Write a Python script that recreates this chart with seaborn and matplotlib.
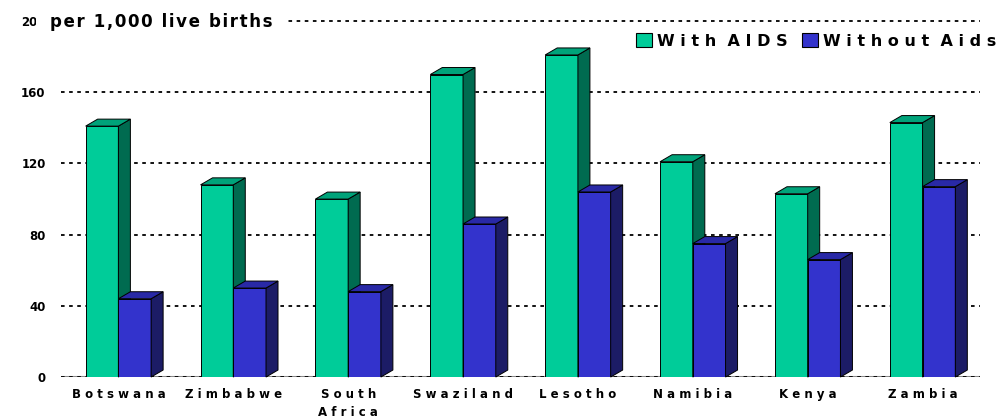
import numpy as np
import pandas as pd
import seaborn as sns
import matplotlib.pyplot as plt
from matplotlib.patches import Polygon, Patch

# data (deaths per 1,000 live births)
countries = ["Botswana", "Zimbabwe", "South\nAfrica", "Swaziland", "Lesotho",
             "Namibia", "Kenya", "Zambia"]
with_aids = [141, 108, 100, 170, 181, 121, 103, 143]
without_aids = [44, 50, 48, 86, 104, 75, 66, 107]
series = ["With AIDS", "Without Aids"]
yticks = [0, 40, 80, 120, 160, 200]

green, blue = "#00CC99", "#3333CC"
green_side, green_top = "#006B50", "#00A37A"
blue_side, blue_top = "#1C1C66", "#2929A6"


def spaced(s):
    # wide letter spacing like the original chart
    return "\n".join("  ".join(" ".join(w) for w in line.split(" "))
                     for line in s.split("\n"))


df = pd.DataFrame({
    "country": countries * 2,
    "series": [series[0]] * len(countries) + [series[1]] * len(countries),
    "value": with_aids + without_aids,
})

sns.set_style("white")
plt.rcParams["font.family"] = ["DejaVu Sans"]
plt.rcParams["text.color"] = "black"

fig = plt.figure(figsize=(9.99, 4.18), dpi=100)
ax = fig.add_axes([0.061, 0.098, 0.92, 0.854])

sns.barplot(data=df, x="country", y="value", hue="series", palette=[green, blue],
            width=0.57, saturation=1, edgecolor="black", linewidth=0.7,
            legend=False, ax=ax)

ax.set_xlim(-0.5, len(countries) - 0.5)
ax.set_ylim(0, 200.6)

# 3D depth: side and top faces
ax_w = 0.92 * 999
ax_h = 0.854 * 418
dx = 12 / ax_w * len(countries)
dy = 7 / ax_h * 200.6
for p in list(ax.patches):
    h = p.get_height()
    if h <= 0:
        continue
    x0, w = p.get_x(), p.get_width()
    is_green = p.get_facecolor()[1] > 0.5
    z = 2 if is_green else 3
    side_c, top_c = (green_side, green_top) if is_green else (blue_side, blue_top)
    p.set_zorder(z)
    side = Polygon([(x0 + w, 0), (x0 + w + dx, dy), (x0 + w + dx, h + dy), (x0 + w, h)],
                   closed=True, fc=side_c, ec="black", lw=0.7, zorder=z, clip_on=False)
    top = Polygon([(x0, h), (x0 + dx, h + dy), (x0 + w + dx, h + dy), (x0 + w, h)],
                  closed=True, fc=top_c, ec="black", lw=0.7, zorder=z, clip_on=False)
    ax.add_patch(side)
    ax.add_patch(top)

# grid and baseline
ax.set_axisbelow(True)
ax.yaxis.grid(True, color="black", linestyle=(0, (2, 2.5)), linewidth=1.3)
ax.axhline(0, color="#8a8a8a", lw=2.2, zorder=0.5)
for s in ax.spines.values():
    s.set_visible(False)

ax.set_xlabel("")
ax.set_ylabel("")
ax.set_xticks(range(len(countries)))
ax.set_xticklabels([spaced(c) for c in countries], fontsize=8.5, fontweight="bold",
                   linespacing=1.5, color="black")
ax.set_xticks(np.arange(-0.5, len(countries), 1), minor=True)
ax.tick_params(axis="x", which="major", length=0, pad=8)
ax.tick_params(axis="x", which="minor", length=5, width=1.2, color="#8a8a8a", direction="out")

ax.set_yticks(yticks)
ax.set_yticklabels([str(t) for t in yticks], fontsize=8.5, fontweight="bold", color="black")
ax.tick_params(axis="y", length=0, pad=11)

title = "\u200a".join("per 1,000 live births")
fig.text(50 / 999, 1 - 22 / 418, title, fontsize=12, fontweight="bold",
         ha="left", va="center",
         bbox=dict(boxstyle="square,pad=0.85", fc="white", ec="none"))

handles = [Patch(fc=green, ec="black", lw=0.8), Patch(fc=blue, ec="black", lw=0.8)]
fig.legend(handles=handles, labels=[spaced(s) for s in series], ncol=2, frameon=False,
           loc="upper right", bbox_to_anchor=(0.997, 1 - 33 / 418),
           prop={"size": 11.5, "weight": "bold"}, handlelength=1.0, handleheight=1.0,
           handletextpad=0.3, columnspacing=0.9, borderaxespad=0.0, borderpad=0.0)

fig.savefig("out.png", dpi=100)
